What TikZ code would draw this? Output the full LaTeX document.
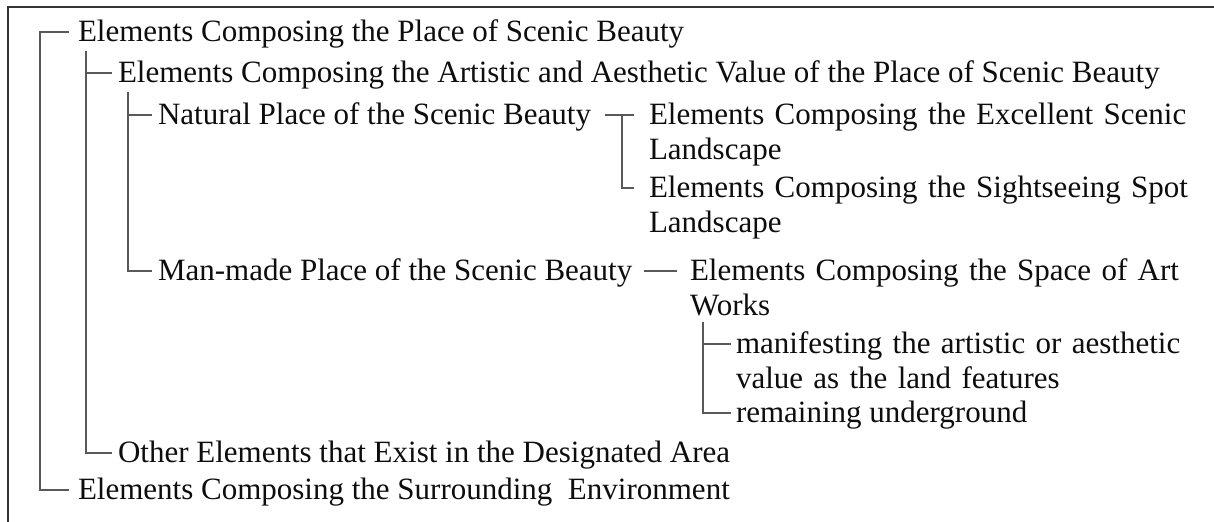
\documentclass[tikz,border=0pt]{standalone}
\usepackage{fontspec}
\setmainfont{Liberation Serif}
\usetikzlibrary{calc}
\begin{document}
\begin{tikzpicture}[x=0.5pt,y=-0.5pt,
  lbl/.style={anchor=base west, inner sep=0pt, outer sep=0pt, text=black!95,
    font=\fontsize{15.5}{17.5}\selectfont},
  lbltwo/.style={lbl, align=left, text width=300pt},
  conn/.style={draw=black!65, line width=0.75pt},
  frameline/.style={draw=black!80, line width=0.8pt}]
\useasboundingbox (0,0) rectangle (1214,522);
\draw[frameline] (8,530) -- (8,7) -- (1220,7);

\node[lbl] (n1) at (78,42) {Elements Composing the Place of Scenic Beauty};
\node[lbl] (n2) at (118,83) {Elements Composing the Artistic and Aesthetic Value of the Place of Scenic Beauty};
\node[lbl] (n3) at (158,125) {Natural Place of the Scenic Beauty};
\node[lbltwo] (n4) at (649,125) {Elements Composing the Excellent Scenic\\Landscape};
\node[lbltwo] (n5) at (649,198) {Elements Composing the Sightseeing Spot\\Landscape};
\node[lbl] (n6) at (158,281) {Man-made Place of the Scenic Beauty};
\node[lbltwo] (n7) at (690,281) {Elements Composing the Space of Art\\Works};
\node[lbltwo] (n8) at (736,354) {manifesting the artistic or aesthetic\\value as the land features};
\node[lbl] (n9) at (736,423) {remaining underground};
\node[lbl] (n10) at (118,463) {Other Elements that Exist in the Designated Area};
\node[lbl] (n11) at (78,500) {Elements Composing the Surrounding\ \ Environment};

\foreach \n in {1,...,11} {
  \coordinate (m\n) at ([yshift=5pt]n\n.base west);
  \coordinate (r\n) at ([yshift=5pt]n\n.base east);
}
\coordinate (s0) at (40,0);
\coordinate (s1) at (86,0);
\coordinate (s2) at (128,0);
\coordinate (s3) at (622,0);
\coordinate (s4) at (703,0);

% level 0
\draw[conn] ($(m1)+(-9,0)$) -- (s0 |- m1) -- (s0 |- m11) -- ($(m11)+(-9,0)$);
% level 1
\draw[conn] ($(s1 |- n1.south)+(0,2)$) -- (s1 |- m10) -- ($(m10)+(-6,0)$);
\draw[conn] (s1 |- m2) -- ($(m2)+(-6,0)$);
% level 2
\draw[conn] ($(s2 |- n2.south)+(0,2)$) -- (s2 |- m6) -- ($(m6)+(-6,0)$);
\draw[conn] (s2 |- m3) -- ($(m3)+(-6,0)$);
% natural
\draw[conn] ($(r3)+(14,0)$) -- ($(m4)+(-15,0)$);
\draw[conn] (s3 |- m4) -- (s3 |- m5) -- ($(m5)+(-15,0)$);
% man-made
\draw[conn] ($(r6)+(12,0)$) -- ($(m7)+(-13,0)$);
% space of art works
\draw[conn] ($(s4 |- n7.south)+(0,6)$) -- (s4 |- m9) -- ($(m9)+(-5,0)$);
\draw[conn] (s4 |- m8) -- ($(m8)+(-5,0)$);
\end{tikzpicture}
\end{document}
